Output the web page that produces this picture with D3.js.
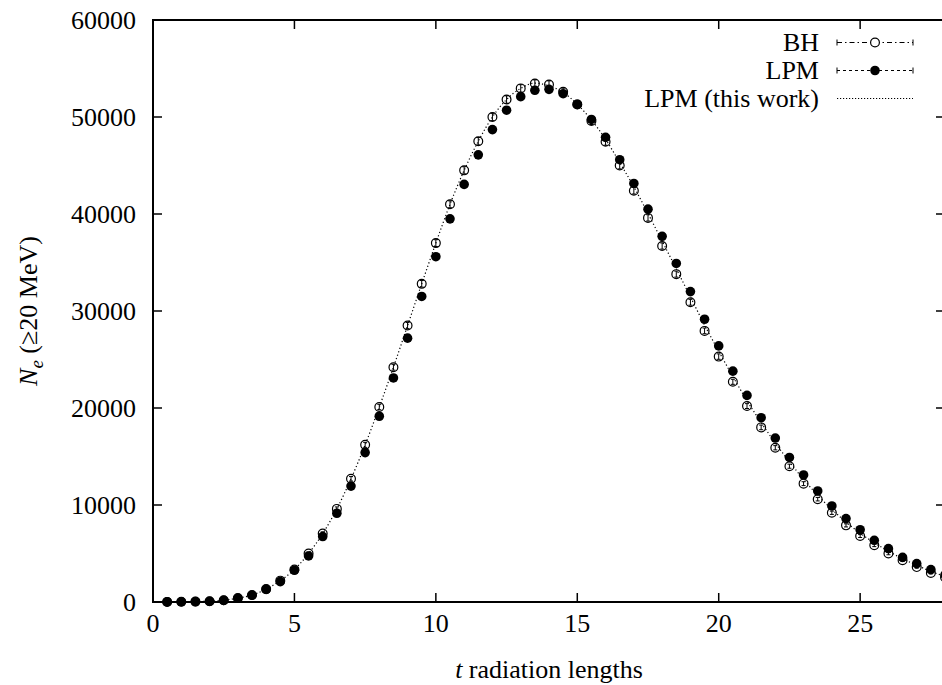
<!DOCTYPE html>
<meta charset="utf-8">
<style>
body { margin: 0; background: #fff; }
svg { font-family: "Liberation Serif", "Times New Roman", serif; font-size: 26px; display: block; }
.border { fill: none; stroke: #000; stroke-width: 2; }
.tick { stroke: #000; stroke-width: 1.5; }
</style>
<body>
<script src="https://cdn.jsdelivr.net/npm/d3@7"></script>
<script>
var width = 942,
    height = 685;

var tValues = [0.5, 1, 1.5, 2, 2.5, 3, 3.5, 4, 4.5, 5, 5.5, 6, 6.5, 7, 7.5, 8, 8.5, 9, 9.5, 10,
  10.5, 11, 11.5, 12, 12.5, 13, 13.5, 14, 14.5, 15, 15.5, 16, 16.5, 17, 17.5, 18, 18.5, 19, 19.5, 20,
  20.5, 21, 21.5, 22, 22.5, 23, 23.5, 24, 24.5, 25, 25.5, 26, 26.5, 27, 27.5, 28];

var bhValues = [10, 20, 40, 80, 180, 400, 720, 1330, 2200, 3350, 5000, 7050, 9600, 12700, 16200, 20100, 24200, 28500, 32800, 37000,
  41000, 44500, 47500, 50000, 51800, 52950, 53450, 53350, 52600, 51300, 49600, 47450, 45000, 42400, 39600, 36700, 33800, 30900, 27950, 25300,
  22700, 20200, 18000, 15900, 14000, 12200, 10600, 9200, 7900, 6800, 5850, 5000, 4300, 3600, 3000, 2550];

var bhErrors = [5, 10, 15, 20, 30, 40, 60, 80, 100, 120, 150, 180, 200, 230, 260, 280, 300, 320, 340, 350,
  360, 370, 380, 380, 380, 380, 380, 380, 380, 370, 370, 360, 350, 340, 330, 320, 310, 300, 290, 280,
  260, 250, 240, 220, 210, 200, 180, 170, 160, 150, 140, 130, 120, 110, 100, 90];

var lpmValues = [10, 20, 40, 70, 170, 380, 690, 1300, 2100, 3270, 4750, 6750, 9150, 11950, 15400, 19150, 23100, 27200, 31500, 35600,
  39500, 43050, 46100, 48700, 50700, 52100, 52750, 52850, 52400, 51300, 49750, 47900, 45600, 43150, 40500, 37700, 34900, 32000, 29150, 26400,
  23800, 21300, 19000, 16900, 14900, 13100, 11450, 9900, 8600, 7450, 6360, 5500, 4600, 3960, 3340, 2800];

var thisWorkValues = [10, 20, 40, 80, 180, 400, 720, 1330, 2200, 3350, 5000, 7050, 9600, 12700, 16200, 20100, 24200, 28500, 32800, 37000,
  41000, 44500, 47500, 50000, 51800, 52950, 53500, 53200, 52550, 51300, 49700, 47700, 45300, 42800, 40050, 37200, 34350, 31450, 28550, 25850,
  23250, 20750, 18500, 16400, 14450, 12650, 11000, 9550, 8250, 7100, 6100, 5250, 4450, 3800, 3150, 2650];

var xTicks = [0, 5, 10, 15, 20, 25];
var yTicks = [0, 10000, 20000, 30000, 40000, 50000, 60000];
var legendLabels = ["BH", "LPM", "LPM (this work)"];

var x = d3.scaleLinear().domain([0, 28]).range([153, 945]);
var y = d3.scaleLinear().domain([0, 60000]).range([602, 20]);

var svg = d3.select("body").append("svg")
  .attr("width", width)
  .attr("height", height)
  .style("overflow", "hidden");

// ticks on all four sides, gnuplot style
var tickLen = 9;
var g = svg.append("g");
yTicks.forEach(function(v) {
  g.append("line").attr("class", "tick")
    .attr("x1", x(0)).attr("x2", x(0) + tickLen).attr("y1", y(v)).attr("y2", y(v));
  g.append("line").attr("class", "tick")
    .attr("x1", x(28)).attr("x2", x(28) - tickLen).attr("y1", y(v)).attr("y2", y(v));
  g.append("text")
    .attr("x", 136).attr("y", y(v)).attr("dy", "0.34em")
    .attr("text-anchor", "end")
    .text(v);
});
xTicks.forEach(function(v) {
  g.append("line").attr("class", "tick")
    .attr("x1", x(v)).attr("x2", x(v)).attr("y1", y(0)).attr("y2", y(0) - tickLen);
  g.append("line").attr("class", "tick")
    .attr("x1", x(v)).attr("x2", x(v)).attr("y1", y(60000)).attr("y2", y(60000) + tickLen);
  g.append("text")
    .attr("x", x(v)).attr("y", 632)
    .attr("text-anchor", "middle")
    .text(v);
});

svg.append("rect").attr("class", "border")
  .attr("x", x(0)).attr("y", y(60000))
  .attr("width", x(28) - x(0)).attr("height", y(0) - y(60000));

// axis labels
var ylab = svg.append("text")
  .attr("transform", "translate(37," + ((y(0) + y(60000)) / 2) + ") rotate(-90)")
  .attr("text-anchor", "middle");
ylab.append("tspan").attr("font-style", "italic").text("N");
ylab.append("tspan").attr("font-style", "italic").attr("font-size", "19px").attr("dy", 6).text("e");
ylab.append("tspan").attr("dy", -6).text(" (\u226520 MeV)");

var xlab = svg.append("text")
  .attr("x", (x(0) + x(28)) / 2).attr("y", 678)
  .attr("text-anchor", "middle");
xlab.append("tspan").attr("font-style", "italic").text("t");
xlab.append("tspan").text(" radiation lengths");

// this work: dotted curve
var line = d3.line()
  .x(function(d, i) { return x(tValues[i]); })
  .y(function(d) { return y(d); })
  .curve(d3.curveMonotoneX);

svg.append("path")
  .datum(thisWorkValues)
  .attr("fill", "none")
  .attr("stroke", "#000")
  .attr("stroke-width", 1.2)
  .attr("stroke-dasharray", "1.2,2.4")
  .attr("d", line);

// BH error bars + open circles
var bh = svg.append("g");
bh.selectAll("path.err")
  .data(bhValues)
  .enter().append("path")
  .attr("class", "err")
  .attr("fill", "none")
  .attr("stroke", "#000")
  .attr("stroke-width", 1)
  .attr("d", function(d, i) {
    var cx = x(tValues[i]), y0 = y(d - bhErrors[i]), y1 = y(d + bhErrors[i]);
    return "M" + cx + "," + y0 + "V" + y1 +
      "M" + (cx - 2) + "," + y0 + "H" + (cx + 2) +
      "M" + (cx - 2) + "," + y1 + "H" + (cx + 2);
  });
bh.selectAll("circle")
  .data(bhValues)
  .enter().append("circle")
  .attr("cx", function(d, i) { return x(tValues[i]); })
  .attr("cy", function(d) { return y(d); })
  .attr("r", 4.4)
  .attr("fill", "none")
  .attr("stroke", "#000")
  .attr("stroke-width", 1.2);

// LPM filled circles
svg.append("g").selectAll("circle")
  .data(lpmValues)
  .enter().append("circle")
  .attr("cx", function(d, i) { return x(tValues[i]); })
  .attr("cy", function(d) { return y(d); })
  .attr("r", 4.8)
  .attr("fill", "#000");

// legend
var dashes = ["5,3,1.5,3", "3,3", "1.2,1.8"];
var leg = svg.append("g");
legendLabels.forEach(function(label, i) {
  var cy = 42.5 + i * 28;
  leg.append("text")
    .attr("x", 819).attr("y", cy + 8.8)
    .attr("text-anchor", "end")
    .text(label);
  leg.append("line")
    .attr("x1", 837).attr("x2", 913).attr("y1", cy).attr("y2", cy)
    .attr("stroke", "#000").attr("stroke-width", 1)
    .attr("stroke-dasharray", dashes[i]);
  if (i < 2) {
    [837, 913].forEach(function(ex) {
      leg.append("line")
        .attr("x1", ex).attr("x2", ex).attr("y1", cy - 3).attr("y2", cy + 3)
        .attr("stroke", "#000").attr("stroke-width", 1);
    });
    leg.append("circle")
      .attr("cx", 875).attr("cy", cy)
      .attr("r", i === 0 ? 4.4 : 4.8)
      .attr("fill", i === 0 ? "#fff" : "#000")
      .attr("stroke", "#000")
      .attr("stroke-width", i === 0 ? 1.2 : 0);
  }
});
</script>
